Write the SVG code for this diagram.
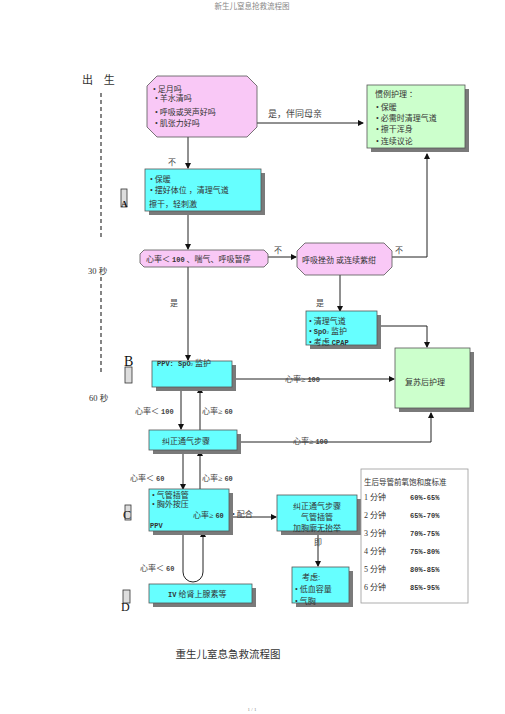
<svg xmlns="http://www.w3.org/2000/svg" width="505" height="714" viewBox="0 0 505 714">
<style>
text{font-family:"Liberation Serif","Noto Sans CJK SC",serif;fill:#333;font-size:8px}
.pink{fill:#f9c8f6;stroke:#555;stroke-width:0.8}
.cyan{fill:#66ffff;stroke:#555;stroke-width:0.8}
.green{fill:#ccffcc;stroke:#555;stroke-width:0.8}
.sh{fill:#7a7a7a}
.ln{fill:none;stroke:#222;stroke-width:1}
.mk{fill:#ddd;stroke:#333;stroke-width:0.8}
.lab{font-size:8px;fill:#444}
.bold{font-family:"Liberation Mono","Noto Sans CJK SC",monospace;font-weight:bold;font-size:7px}
</style>
<defs>
<marker id="ar" markerWidth="6" markerHeight="6" refX="5" refY="3" orient="auto" markerUnits="userSpaceOnUse">
<path d="M0,0 L6,3 L0,6 z" fill="#111"/>
</marker>
</defs>
<rect width="505" height="714" fill="#fff"/>
<text x="252" y="9" text-anchor="middle" style="font-size:7.5px;fill:#888">新生儿窒息抢救流程图</text>
<g id="timeline">
<text x="82" y="84" style="font-size:11px;letter-spacing:4px">出 生</text>
<path d="M101,93 V240 M101,277 V372" stroke="#444" stroke-width="1.3" stroke-dasharray="4,3"/>
<text x="88" y="274" style="font-size:8.5px">30 秒</text>
<text x="89" y="401" style="font-size:8.5px">60 秒</text>
</g>
<g id="markers">
<rect class="mk" x="121" y="189" width="6" height="18"/>
<text x="121" y="207" style="font-size:9px;font-weight:bold;fill:#111">A</text>
<rect class="mk" x="125" y="367" width="7" height="16"/>
<text x="124" y="366" style="font-size:14px;fill:#111">B</text>
<rect class="mk" x="125" y="505" width="6" height="15"/>
<text x="123" y="519" style="font-size:12px;fill:#111">C</text>
<rect class="mk" x="123" y="590" width="7" height="13"/>
<text x="121" y="611" style="font-size:12px;fill:#111">D</text>
</g>
<g id="connectors">
<path class="ln" d="M257,123 H363" marker-end="url(#ar)"/>
<path class="ln" d="M188,137 V168" marker-end="url(#ar)"/>
<path class="ln" d="M188,211 V249" marker-end="url(#ar)"/>
<path class="ln" d="M268,257 H296" marker-end="url(#ar)"/>
<path class="ln" d="M392,257 H427 V154" marker-end="url(#ar)"/>
<path class="ln" d="M188,267 V360" marker-end="url(#ar)"/>
<path class="ln" d="M340,275 V311" marker-end="url(#ar)"/>
<path class="ln" d="M377,326 H427 V347" marker-end="url(#ar)"/>
<path class="ln" d="M232,379 H394" marker-end="url(#ar)"/>
<path class="ln" d="M181,387 V429" stroke-width="1.5" marker-end="url(#ar)"/>
<path class="ln" d="M200,430 V388" marker-end="url(#ar)"/>
<path class="ln" d="M237,442 H431 V413" marker-end="url(#ar)"/>
<path class="ln" d="M183,450 V489" marker-end="url(#ar)"/>
<path class="ln" d="M200,489 V451" marker-end="url(#ar)"/>
<path class="ln" d="M229,517 H276" marker-end="url(#ar)"/>
<path class="ln" d="M318,531 V566" marker-end="url(#ar)"/>
<path class="ln" d="M183,531 V572 A10,10 0 0 0 203,572 V532" marker-end="url(#ar)"/>
<text class="lab" x="268" y="117" style="font-size:9px">是，伴同母亲</text>
<text class="lab" x="168" y="165">不</text>
<text class="lab" x="274" y="253">不</text>
<text class="lab" x="395" y="253">不</text>
<text class="lab" x="170" y="306">是</text>
<text class="lab" x="316" y="306">是</text>
<text class="lab" x="285" y="382">心率≥ <tspan class="bold">100</tspan></text>
<text class="lab" x="135" y="414">心率＜ <tspan class="bold">100</tspan></text>
<text class="lab" x="202" y="414">心率≥ <tspan class="bold">60</tspan></text>
<text class="lab" x="293" y="444">心率≥ <tspan class="bold">100</tspan></text>
<text class="lab" x="130" y="481">心率＜ <tspan class="bold">60</tspan></text>
<text class="lab" x="202" y="481">心率≥ <tspan class="bold">60</tspan></text>
<text class="lab" x="232" y="517">• 配合</text>
<text class="lab" x="314" y="545">即</text>
<text class="lab" x="140" y="571">心率＜ <tspan class="bold">60</tspan></text>
</g>
<g id="n-check">
<polygon class="pink" points="157,76 247,76 257,86 257,127 247,137 157,137 147,127 147,86"/>
<text x="153" y="92">• 足月吗</text>
<text x="155" y="101">•   羊水清吗</text>
<text x="155" y="115">• 呼吸或哭声好吗</text>
<text x="155" y="126">• 肌张力好吗</text>
</g>
<g id="n-routine">
<rect class="sh" x="371" y="89" width="98" height="63"/>
<rect class="green" x="367" y="85" width="98" height="63"/>
<text x="375" y="97">惯例护理  ：</text>
<text x="376" y="110">• 保暖</text>
<text x="376" y="121">• 必需时清理气道</text>
<text x="376" y="132">• 擦干浑身</text>
<text x="376" y="144">• 连续议论</text>
</g>
<g id="n-initial">
<rect class="sh" x="149" y="173" width="116" height="42"/>
<rect class="cyan" x="145" y="169" width="116" height="42"/>
<text x="150" y="182">• 保暖</text>
<text x="150" y="193">• 摆好体位 ，清理气道</text>
<text x="149" y="207">擦干，轻刺激</text>
</g>
<g id="n-hr">
<polygon class="pink" points="144,250 264,250 268,254 268,263 264,267 144,267 140,263 140,254"/>
<text x="146" y="262">心率＜ <tspan class="bold">100</tspan> 、喘气、呼吸暂停</text>
</g>
<g id="n-breath">
<polygon class="pink" points="305,243 384,243 392,251 392,267 384,275 305,275 297,267 297,251"/>
<text x="302" y="263">呼吸挫劲 或连续紫绀</text>
</g>
<g id="n-cpap">
<rect class="sh" x="310" y="315" width="71" height="34"/>
<rect class="cyan" x="306" y="311" width="71" height="34"/>
<text x="309" y="324">• 清理气道</text>
<text x="309" y="334">• <tspan class="bold">SpO</tspan><tspan style="font-size:5px">2</tspan> 监护</text>
<text x="309" y="345">• 考虑 <tspan class="bold">CPAP</tspan></text>
</g>
<g id="n-post">
<rect class="sh" x="399" y="352" width="75" height="60"/>
<rect class="green" x="395" y="348" width="75" height="60"/>
<text x="405" y="385">复苏后护理</text>
</g>
<g id="n-ppv">
<rect class="sh" x="156" y="365" width="80" height="26"/>
<rect class="cyan" x="152" y="361" width="80" height="26"/>
<text x="157" y="366"><tspan class="bold">PPV: SpO</tspan><tspan style="font-size:5px">2</tspan> 监护</text>
</g>
<g id="n-correct">
<rect class="sh" x="153" y="434" width="88" height="20"/>
<rect class="cyan" x="149" y="430" width="88" height="20"/>
<text x="162" y="444">纠正通气步骤</text>
</g>
<g id="n-intubate">
<rect class="sh" x="153" y="493" width="80" height="42"/>
<rect class="cyan" x="149" y="489" width="80" height="42"/>
<text x="152" y="498">• 气管插管</text>
<text x="152" y="507">• 胸外按压</text>
<text x="193" y="518">心率≥ <tspan class="bold">60</tspan></text>
<text x="150" y="528" class="bold">PPV</text>
</g>
<g id="n-correct2">
<rect class="sh" x="281" y="499" width="80" height="36"/>
<rect class="cyan" x="277" y="495" width="80" height="36"/>
<text x="317" y="509" text-anchor="middle">纠正通气步骤</text>
<text x="317" y="520" text-anchor="middle">气管插管</text>
<text x="317" y="531" text-anchor="middle">加胸廓无抬举</text>
</g>
<g id="n-consider">
<rect class="sh" x="296" y="571" width="57" height="36"/>
<rect class="cyan" x="292" y="567" width="57" height="36"/>
<text x="302" y="580">考虑:</text>
<text x="295" y="592">• 低血容量</text>
<text x="295" y="604">• 气胸</text>
</g>
<g id="n-iv">
<rect class="sh" x="153" y="588" width="103" height="19"/>
<rect class="cyan" x="149" y="584" width="103" height="19"/>
<text x="168" y="597"><tspan class="bold">IV</tspan> 给肾上腺素等</text>
</g>
<g id="n-table">
<rect x="361" y="469" width="107" height="134" fill="#fff" stroke="#999" stroke-width="0.8"/>
<text x="364" y="485" style="font-size:7.5px">生后导管前氧饱和度标准</text>
<g style="font-size:7.5px">
<text x="364" y="500">1 分钟</text><text x="410" y="500" class="bold">60%-65%</text>
<text x="364" y="518">2 分钟</text><text x="410" y="518" class="bold">65%-70%</text>
<text x="364" y="536">3 分钟</text><text x="410" y="536" class="bold">70%-75%</text>
<text x="364" y="554">4 分钟</text><text x="410" y="554" class="bold">75%-80%</text>
<text x="364" y="572">5 分钟</text><text x="410" y="572" class="bold">80%-85%</text>
<text x="364" y="590">6 分钟</text><text x="410" y="590" class="bold">85%-95%</text>
</g>
</g>
<text x="228" y="658" text-anchor="middle" style="font-size:10.5px">重生儿窒息急救流程图</text>
<text x="252" y="711" text-anchor="middle" style="font-size:5px;fill:#888">1 / 1</text>
</svg>
